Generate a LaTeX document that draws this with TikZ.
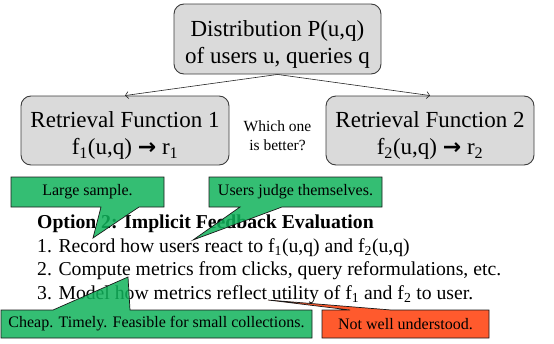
\documentclass[tikz,border=0pt]{standalone}
\usepackage{fontspec}
\setmainfont{Liberation Serif}
\newfontfamily\arrowfont{DejaVu Sans}
\usetikzlibrary{arrows.meta,calc}
\pgfdeclarelayer{front}
\pgfsetlayers{main,front}
\definecolor{boxgray}{RGB}{218,218,218}
\definecolor{boxedge}{RGB}{60,60,60}
\definecolor{notegreen}{RGB}{16,179,91}
\definecolor{noteorange}{RGB}{255,61,8}
\newcommand{\maps}{{\arrowfont\bfseries\fontsize{22}{24}\selectfont →}}

\begin{document}
\begin{tikzpicture}[x=1pt,y=-1pt,
  fbox/.style={draw=boxedge, fill=boxgray, line width=0.9pt, rounded corners=10pt, inner sep=0pt},
  boxtext/.style={align=center, inner sep=0pt, font=\fontsize{23}{27.5}\selectfont},
  flow/.style={draw=black!85, line width=0.6pt, -{Straight Barb[length=3pt,width=7pt]}},
  notetext/.style={inner sep=0pt, outer sep=0pt, font=\fontsize{16}{19}\selectfont},
  note/.style={draw=black!90, line width=0.7pt, fill opacity=0.85, draw opacity=1},
  bodytext/.style={anchor=base west, inner sep=0pt, font=\fontsize{19.7}{24}\selectfont},
  headtext/.style={anchor=base west, inner sep=0pt, font=\bfseries\fontsize{19.7}{24}\selectfont}]

\useasboundingbox (0,0) rectangle (554,343);

% the distribution and the two retrieval functions
\node[fbox, minimum width=207pt, minimum height=70pt] (dist) at (277.5,39) {};
\node[fbox, minimum width=208pt, minimum height=69pt] (rf1) at (125,130.5) {};
\node[fbox, minimum width=208pt, minimum height=69pt] (rf2) at (430,130.5) {};
\node[boxtext] (dist-t) at (277.5,44.5) {Distribution P(u,q)\\of users u, queries q};
\node[boxtext] (rf1-t) at (125,135.5) {Retrieval Function 1\\f\textsubscript{1}(u,q) \maps{} r\textsubscript{1}};
\node[boxtext] (rf2-t) at (430,135.5) {Retrieval Function 2\\f\textsubscript{2}(u,q) \maps{} r\textsubscript{2}};
\node[align=center, inner sep=0pt, font=\fontsize{15.5}{19}\selectfont] (which) at (277.5,135.5)
  {Which one\\is better?};
\draw[flow] (dist.south) -- (rf1.north);
\draw[flow] (dist.south) -- (rf2.north);

% option text
\node[headtext] (head) at (37,228.5) {Option 2: Implicit Feedback Evaluation};
\node[bodytext] (l1) at (37,252) {1. Record how users react to f\textsubscript{1}(u,q) and f\textsubscript{2}(u,q)};
\node[bodytext] (l2) at (37,275.5) {2. Compute metrics from clicks, query reformulations, etc.};
\node[bodytext] (l3) at (37,299) {3. Model how metrics reflect utility of f\textsubscript{1} and f\textsubscript{2} to user.};

% callout texts, kept above the callout shapes
\begin{pgfonlayer}{front}
\node[notetext, minimum width=153pt, minimum height=30pt] (ls) at (87.5,192) {Large sample.};
\node[notetext, minimum width=173pt, minimum height=30pt] (uj) at (295.5,192) {Users judge themselves.};
\node[notetext, minimum width=311pt, minimum height=28pt] (ch) at (156.5,324) {Cheap. Timely. Feasible for small collections.};
\node[notetext, minimum width=167pt, minimum height=28pt] (nw) at (405.5,324) {Not well understood.};
\end{pgfonlayer}

\coordinate (ls-tip) at (93,238);
\coordinate (uj-tip) at (193,240);
\coordinate (ch-tip) at (128,277);
\coordinate (nw-tip) at (268,300);

% callouts pointing down
\draw[note, fill=notegreen] (ls.north west) -- (ls.north east) -- (ls.south east)
  -- ($(ls.south west)+(128,0)$) -- (ls-tip) -- ($(ls.south west)+(90,0)$)
  -- (ls.south west) -- cycle;
\draw[note, fill=notegreen] (uj.north west) -- (uj.north east) -- (uj.south east)
  -- ($(uj.south west)+(73,0)$) -- (uj-tip) -- ($(uj.south west)+(31,0)$)
  -- (uj.south west) -- cycle;
% callouts pointing up
\draw[note, fill=notegreen] (ch.south west) -- (ch.north west)
  -- ($(ch.north west)+(52,0)$) -- (ch-tip) -- ($(ch.north west)+(129,0)$)
  -- (ch.north east) -- (ch.south east) -- cycle;
\draw[note, fill=noteorange] (nw.south west) -- (nw.north west)
  -- ($(nw.north west)+(28,0)$) -- (nw-tip) -- ($(nw.north west)+(69,0)$)
  -- (nw.north east) -- (nw.south east) -- cycle;
\end{tikzpicture}
\end{document}
